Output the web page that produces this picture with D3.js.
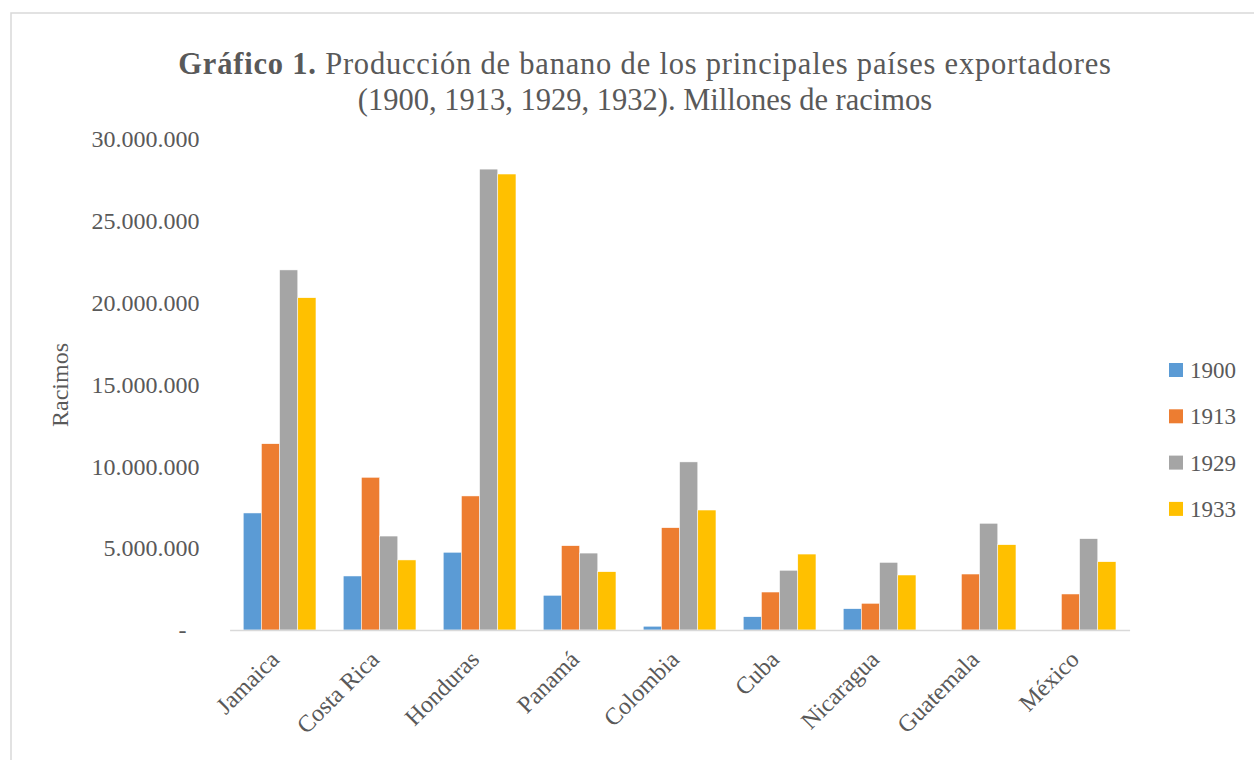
<!DOCTYPE html>
<html>
<head>
<meta charset="utf-8">
<script src="https://cdn.jsdelivr.net/npm/d3@7"></script>
<style>
  body { margin: 0; background: #fff; }
  text { font-family: "Liberation Serif", serif; fill: #595959; }
</style>
</head>
<body>
<div id="chart-container"></div>
<script>
// Data
const countries = ["Jamaica", "Costa Rica", "Honduras", "Panamá", "Colombia", "Cuba", "Nicaragua", "Guatemala", "México"];
const years = ["1900", "1913", "1929", "1933"];
const v1900 = [7150000, 3300000, 4750000, 2120000, 230000, 810000, 1300000, 0, 0];
const v1913 = [11380000, 9330000, 8190000, 5150000, 6250000, 2320000, 1630000, 3420000, 2200000];
const v1929 = [22000000, 5740000, 28160000, 4700000, 10270000, 3650000, 4130000, 6520000, 5580000];
const v1933 = [20300000, 4280000, 27860000, 3560000, 7330000, 4640000, 3360000, 5210000, 4170000];
const yTicks = [0, 5000000, 10000000, 15000000, 20000000, 25000000, 30000000];
const colors = ["#5B9BD5", "#ED7D31", "#A5A5A5", "#FFC000"];

const series = [v1900, v1913, v1929, v1933];

const width = 1254;
const height = 760;
const plot = { left: 229.6, right: 1129.6, top: 139, bottom: 630 };

const svg = d3.select('#chart-container').append('svg')
  .attr('width', width)
  .attr('height', height);

// chart area border
svg.append('rect')
  .attr('x', 11).attr('y', 13)
  .attr('width', 1400).attr('height', 900)
  .attr('fill', '#fff')
  .attr('stroke', '#d9d9d9')
  .attr('stroke-width', 1.5);

// title
const title = svg.append('text')
  .attr('x', 645)
  .attr('y', 74)
  .attr('text-anchor', 'middle')
  .style('font-size', '30.5px')
  .style('letter-spacing', '0.8px');
title.append('tspan').style('font-weight', 'bold').text('Gráfico 1.');
title.append('tspan').text(' Producción de banano de los principales países exportadores');
svg.append('text')
  .attr('x', 645)
  .attr('y', 110)
  .attr('text-anchor', 'middle')
  .style('font-size', '30.5px')
  .text('(1900, 1913, 1929, 1932). Millones de racimos');

// scales
const xScale = d3.scaleBand()
  .domain(countries)
  .range([plot.left, plot.right])
  .padding(0);

// gap width 150%: 0.75 bar on each side of the group
const xInner = d3.scaleBand()
  .domain(years)
  .range([0, xScale.bandwidth()])
  .paddingInner(0)
  .paddingOuter(0.75);

const yScale = d3.scaleLinear()
  .domain([0, 30000000])
  .range([plot.bottom, plot.top]);

const locale = d3.formatLocale({ decimal: ",", thousands: ".", grouping: [3], currency: ["", ""] });
const fmt = locale.format(",.0f");

// bars
const groups = svg.selectAll('.country')
  .data(countries)
  .enter().append('g')
  .attr('class', 'country')
  .attr('transform', d => `translate(${xScale(d)},0)`);

groups.selectAll('rect')
  .data((d, i) => series.map((s, j) => ({ year: years[j], value: s[i], color: colors[j] })))
  .enter().append('rect')
  .attr('x', d => xInner(d.year))
  .attr('y', d => yScale(d.value))
  .attr('width', xInner.bandwidth())
  .attr('height', d => plot.bottom - yScale(d.value))
  .attr('fill', d => d.color)
  .attr('stroke', '#fff')
  .attr('stroke-width', d => d.value > 0 ? 0.5 : 0);

// x axis
const xAxis = svg.append('g')
  .attr('transform', `translate(0,${plot.bottom})`)
  .call(d3.axisBottom(xScale).tickSize(0).tickPadding(0));
xAxis.select('.domain').attr('stroke', '#d9d9d9').attr('stroke-width', 1.5);
xAxis.selectAll('.tick text')
  .attr('text-anchor', 'end')
  .attr('fill', '#595959')
  .style('font-family', '"Liberation Serif", serif')
  .style('font-size', '24px')
  .attr('dy', '0.7em')
  .attr('transform', 'translate(-11,19) rotate(-45)');

// y axis
const yAxis = svg.append('g')
  .attr('transform', `translate(${plot.left},0)`)
  .call(d3.axisLeft(yScale).tickValues(yTicks).tickSize(0).tickPadding(30)
    .tickFormat(d => d === 0 ? '-' : fmt(d)));
yAxis.select('.domain').remove();
yAxis.selectAll('.tick text')
  .attr('fill', '#595959')
  .style('font-family', '"Liberation Serif", serif')
  .style('font-size', '24px')
  .attr('x', d => d === 0 ? -43 : -30);

// y axis title
svg.append('text')
  .attr('transform', 'translate(68,385) rotate(-90)')
  .attr('text-anchor', 'middle')
  .style('font-size', '24px')
  .text('Racimos');

// legend
const legend = svg.selectAll('.legend')
  .data(years)
  .enter().append('g')
  .attr('class', 'legend')
  .attr('transform', (d, i) => `translate(1169,${370 + i * 46.3})`);
legend.append('rect')
  .attr('x', 0).attr('y', -7)
  .attr('width', 14).attr('height', 14)
  .attr('fill', (d, i) => colors[i]);
legend.append('text')
  .attr('x', 21)
  .attr('dy', '0.35em')
  .style('font-size', '23px')
  .text(d => d);
</script>
</body>
</html>
